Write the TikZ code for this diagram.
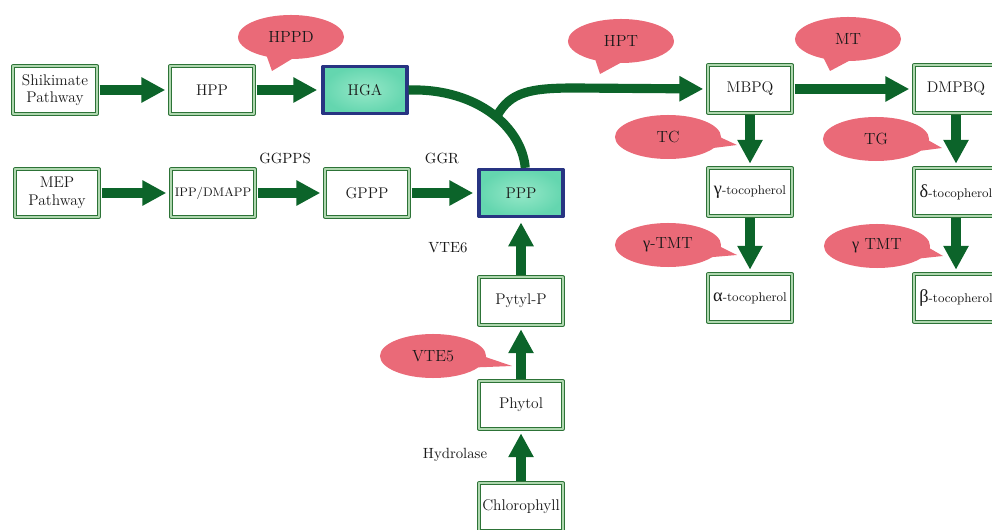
\documentclass[tikz,border=0pt]{standalone}
\usepackage{amsmath,amssymb}
\usepackage{fontspec}
\newfontfamily\greekfont{Liberation Serif}
\usetikzlibrary{arrows.meta,shapes.callouts}
\definecolor{arrowgreen}{RGB}{12,100,42}
\definecolor{boxgreen}{RGB}{45,115,55}
\definecolor{boxpale}{RGB}{175,215,175}
\definecolor{bubblered}{RGB}{234,106,120}
\definecolor{hgateal}{RGB}{100,214,175}
\definecolor{hgalight}{RGB}{150,232,200}
\definecolor{hgaedge}{RGB}{40,52,130}
\tikzset{
	box/.style={draw=boxgreen, double=boxpale, double distance=1.3pt, line width=0.7pt, fill=white,
		minimum width=2.1cm, minimum height=1.18cm, inner sep=1pt, align=center,
		font=\fontsize{11}{12.5}\selectfont, text=black!90},
	keybox/.style={box, draw=hgaedge, double=none, line width=2.2pt, inner color=hgalight, outer color=hgateal},
	bubble/.style={ellipse callout, fill=bubblered, minimum width=2.65cm, minimum height=1.1cm,
		callout pointer arc=28, font=\fontsize{11.5}{13}\selectfont, text=black!90},
	flow/.style={draw=arrowgreen, line width=6.5pt, line cap=butt, -{Triangle[width=17pt,length=17pt]},
		shorten <=1.5pt, shorten >=3pt},
	curve/.style={draw=arrowgreen, line width=6.5pt, line cap=butt},
	enz/.style={font=\fontsize{10.5}{12}\selectfont, text=black!90}
}
\newcommand{\toco}[1]{{\greekfont\fontsize{13}{13}\selectfont#1}{\fontsize{9}{10}\selectfont-tocopherol}}
\begin{document}
\begin{tikzpicture}[x=0.025cm, y=-0.025cm, >=stealth, line join=round, line cap=round]
	\def\W{992} \def\H{530} % size in pixels
	\clip (0,0) rectangle (\W,\H);
	% enzymes
	\node[bubble, callout absolute pointer={(272,71)}] (hppd) at (291,37) {HPPD};
	\node[bubble, callout absolute pointer={(600,74)}] (hpt) at (621,41) {HPT};
	\node[bubble, callout absolute pointer={(830,71)}] (mt) at (848,39) {MT};
	\node[bubble, callout absolute pointer={(737,145)}] (tc) at (668,137) {TC};
	\node[bubble, callout absolute pointer={(942,148)}] (tg) at (876,139) {TG};
	\node[bubble, callout absolute pointer={(737,255)}] (gtmt) at (668,245) {{\greekfont γ}-TMT};
	\node[bubble, callout absolute pointer={(943,256)}] (gtmtb) at (877,246) {{\greekfont γ} TMT};
	\node[bubble, callout absolute pointer={(512,366)}] (vte5) at (433,356) {VTE5};
	% compounds
	\node[box] (shik) at (55,90) {Shikimate\\Pathway};
	\node[box] (hpp) at (212,90) {HPP};
	\node[keybox] (hga) at (365,90) {HGA};
	\node[box] (mep) at (57,193) {MEP\\Pathway};
	\node[box, font=\fontsize{8.8}{10}\selectfont] (ipp) at (213,193) {IPP/DMAPP};
	\node[box] (gppp) at (367,193) {GPPP};
	\node[keybox] (ppp) at (521,193) {PPP};
	\node[box] (mbpq) at (750,89) {MBPQ};
	\node[box] (dmpbq) at (956,89) {DMPBQ};
	\node[box] (gtoc) at (750,192) {\toco{γ}};
	\node[box] (atoc) at (750,298) {\toco{α}};
	\node[box] (dtoc) at (956,192) {\toco{δ}};
	\node[box] (btoc) at (956,298) {\toco{β}};
	\node[box] (pytyl) at (521,301) {Pytyl-P};
	\node[box] (phytol) at (521,405) {Phytol};
	\node[box] (chl) at (521,507) {Chlorophyll};
	% labels
	\node[enz] (ggpps) at (285,158) {GGPPS};
	\node[enz] (ggr) at (442,158) {GGR};
	\node[enz] (vte6) at (448,248) {VTE6};
	\node[enz] (hydro) at (455,455) {Hydrolase};
	% arrows
	\draw[flow] (shik) -- (hpp);
	\draw[flow] (hpp) -- (hga);
	\draw[flow] (mep) -- (ipp);
	\draw[flow] (ipp) -- (gppp);
	\draw[flow] (gppp) -- (ppp);
	\draw[flow] (mbpq) -- (dmpbq);
	\draw[flow] (mbpq) -- (gtoc);
	\draw[flow] (gtoc) -- (atoc);
	\draw[flow] (dmpbq) -- (dtoc);
	\draw[flow] (dtoc) -- (btoc);
	\draw[flow] (chl) -- (phytol);
	\draw[flow] (phytol) -- (pytyl);
	\draw[flow] (pytyl) -- (ppp);
	\draw[curve] (hga.east) .. controls (478,88) and (522,128) .. ([xshift=3pt]ppp.north);
	\coordinate (fork) at (497,116);
	\draw[flow, shorten <=0pt] (fork) .. controls (510,92) and (530,88) .. (575,88) -- (mbpq.west);
\end{tikzpicture}
\end{document}
